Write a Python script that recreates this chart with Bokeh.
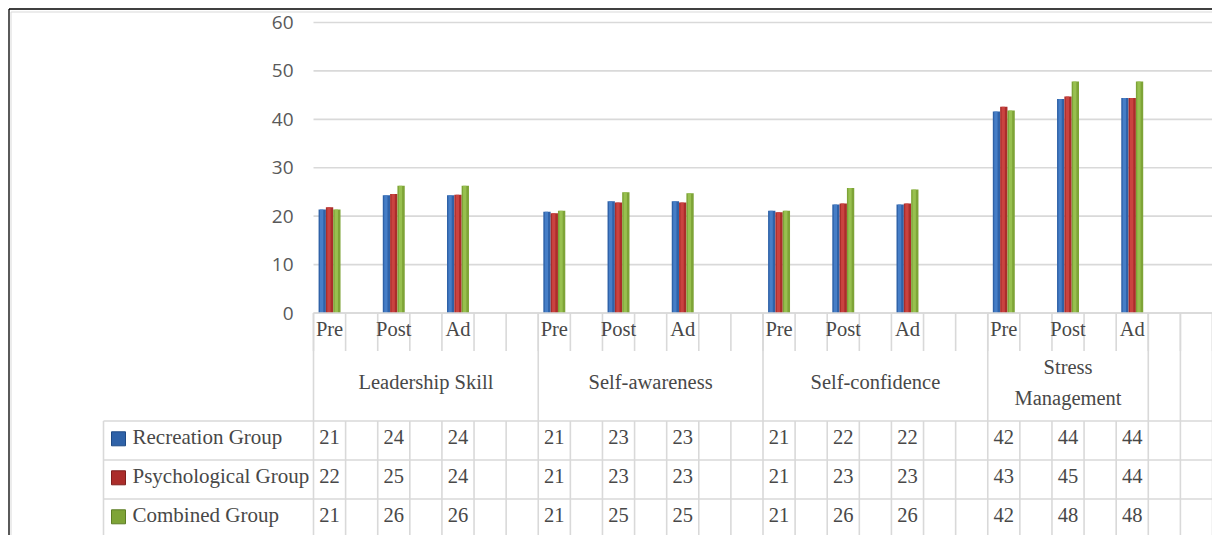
from bokeh.plotting import figure
from bokeh.models import Range1d
from bokeh.core.properties import value
from bokeh.embed import file_html
from bokeh.resources import INLINE

# ---------------- data ----------------
category_labels = ["Pre", "", "Post", "", "Ad", "", ""] * 4          # 28 category slots
group_names = ["Leadership Skill", "Self-awareness", "Self-confidence", "Stress\nManagement"]
group_sizes = [7, 7, 7, 5]                                          # last 2 slots have no group
series_names = ["Recreation Group", "Psychological Group", "Combined Group"]

recreation = [21.4, 24.3, 24.3, 20.9, 23.1, 23.1, 21.1, 22.4, 22.4, 41.6, 44.2, 44.4]
psychological = [21.85, 24.6, 24.4, 20.6, 22.8, 22.8, 20.8, 22.6, 22.6, 42.6, 44.7, 44.4]
combined = [21.4, 26.3, 26.3, 21.1, 24.95, 24.75, 21.1, 25.8, 25.5, 41.8, 47.8, 47.8]

recreation_table = [21, 24, 24, 21, 23, 23, 21, 22, 22, 42, 44, 44]
psychological_table = [22, 25, 24, 21, 23, 23, 21, 23, 23, 43, 45, 44]
combined_table = [21, 26, 26, 21, 25, 25, 21, 26, 26, 42, 48, 48]

y_ticks = [0, 10, 20, 30, 40, 50, 60]

# ---------------- layout constants ----------------
W, H = 1212, 535
PLOT_LEFT = 313.0
N_CAT = len(category_labels)
CAT_W = (W - PLOT_LEFT) / N_CAT
ZERO_Y = 312.5
PX_PER_UNIT = (ZERO_Y - 22.0) / 60.0
BW = 0.228

GRID = "#d9d9d9"
TXT = "#595959"
STXT = "#484848"
SERIF = value("Liberation Serif")
SANS = value("Open Sans")

base_colors = ["#2f62a8", "#ab2d2b", "#7ea437"]
light_colors = ["#4a84cc", "#cf4844", "#9cc653"]

p = figure(width=W, height=H,
           x_range=Range1d(-PLOT_LEFT / CAT_W, N_CAT),
           y_range=Range1d(-(H - ZERO_Y) / PX_PER_UNIT, ZERO_Y / PX_PER_UNIT),
           min_border=0, x_axis_location=None, y_axis_location=None,
           toolbar_location=None, output_backend="svg",
           outline_line_color=None, background_fill_color="white",
           border_fill_color="white")
p.extra_x_ranges = {"px": Range1d(0, W)}
p.extra_y_ranges = {"px": Range1d(H, 0)}
p.grid.visible = False

# outer frame
p.segment(x0=[8.5, 8.5], y0=[8.5, 8.5], x1=[W, 8.5], y1=[8.5, H],
          line_color="black", line_width=1.3, x_range_name="px", y_range_name="px")
p.segment(x0=[10.5, 10.5], y0=[11.5, 11.5], x1=[W, 10.5], y1=[11.5, H],
          line_color=GRID, line_width=1, x_range_name="px", y_range_name="px")

# gridlines + y labels
p.segment(x0=0, x1=N_CAT, y0=y_ticks, y1=y_ticks, line_color=GRID, line_width=1.6)
p.text(x=[293] * len(y_ticks), y=y_ticks, text=[str(t) for t in y_ticks],
       x_range_name="px", text_align="right", text_baseline="middle",
       text_font=SANS, text_font_size="19px", text_color=TXT)

# bars
slots = [i for i, lab in enumerate(category_labels) if lab]
series = [recreation, psychological, combined]
for k, vals in enumerate(series):
    xs = [s + 0.5 + (k - 1) * BW for s in slots]
    p.vbar(x=xs, top=vals, bottom=0, width=BW, fill_color=base_colors[k], line_color=None)
    p.vbar(x=[x - BW * 0.08 for x in xs], top=vals, bottom=0, width=BW * 0.45,
           fill_color=light_colors[k], line_color=None, fill_alpha=0.85)

# ---------------- category header / data table ----------------
bounds = list(range(N_CAT + 1))
# level-1 ticks between every category
p.segment(x0=bounds, x1=bounds, y0=ZERO_Y, y1=350.5, line_color=GRID, line_width=1.6,
          y_range_name="px")
# group boundaries (full header height)
gstarts = [sum(group_sizes[:g]) for g in range(len(group_sizes))]
full = gstarts + [b for b in range(sum(group_sizes), N_CAT + 1)]
p.segment(x0=full, x1=full, y0=ZERO_Y, y1=420.5, line_color=GRID, line_width=1.6,
          y_range_name="px")
# table verticals
p.segment(x0=bounds, x1=bounds, y0=420.5, y1=H, line_color=GRID, line_width=1.6,
          y_range_name="px")
p.segment(x0=[103], x1=[103], y0=[420.5], y1=[H], line_color=GRID, line_width=1.6,
          x_range_name="px", y_range_name="px")
# horizontals
p.segment(x0=0, x1=N_CAT, y0=ZERO_Y, y1=ZERO_Y, line_color=GRID, line_width=1.6,
          y_range_name="px")
row_lines = [420.5, 459.5, 498.5]
p.segment(x0=103, x1=W, y0=row_lines, y1=row_lines, line_color=GRID, line_width=1.6,
          x_range_name="px", y_range_name="px")

# sub-category labels
p.text(x=[s + 0.5 for s in slots], y=[328.5] * len(slots),
       text=[category_labels[s] for s in slots], y_range_name="px",
       text_align="center", text_baseline="middle", text_font=SERIF,
       text_font_size="20.5px", text_color=STXT)

# group labels
gx, gy, gt = [], [], []
for g, name in enumerate(group_names):
    lines = name.split("\n")
    for j, line in enumerate(lines):
        gx.append(gstarts[g] + group_sizes[g] / 2)
        gy.append(381.5 + (j - (len(lines) - 1) / 2) * 31)
        gt.append(line)
p.text(x=gx, y=gy, text=gt, y_range_name="px", text_align="center",
       text_baseline="middle", text_font=SERIF, text_font_size="20.5px", text_color=STXT)

# table rows
row_y = [436.5, 475.5, 514.5]
tables = [recreation_table, psychological_table, combined_table]
for r, tab in enumerate(tables):
    p.text(x=[s + 0.5 for s in slots], y=[row_y[r]] * len(slots), text=[str(v) for v in tab],
           y_range_name="px", text_align="center", text_baseline="middle",
           text_font=SERIF, text_font_size="20.5px", text_color=STXT)

# legend keys + names
p.rect(x=[118] * 3, y=[y + 1.8 for y in row_y], width=14, height=14,
       fill_color=base_colors, line_color=["#1f4a85", "#7e1f1d", "#5d7d25"], line_width=1,
       x_range_name="px", y_range_name="px")
p.text(x=[132] * 3, y=row_y, text=series_names, x_range_name="px", y_range_name="px",
       text_align="left", text_baseline="middle", text_font=SERIF,
       text_font_size="21px", text_color=STXT)

open("out.html", "w").write(file_html(p, INLINE))
